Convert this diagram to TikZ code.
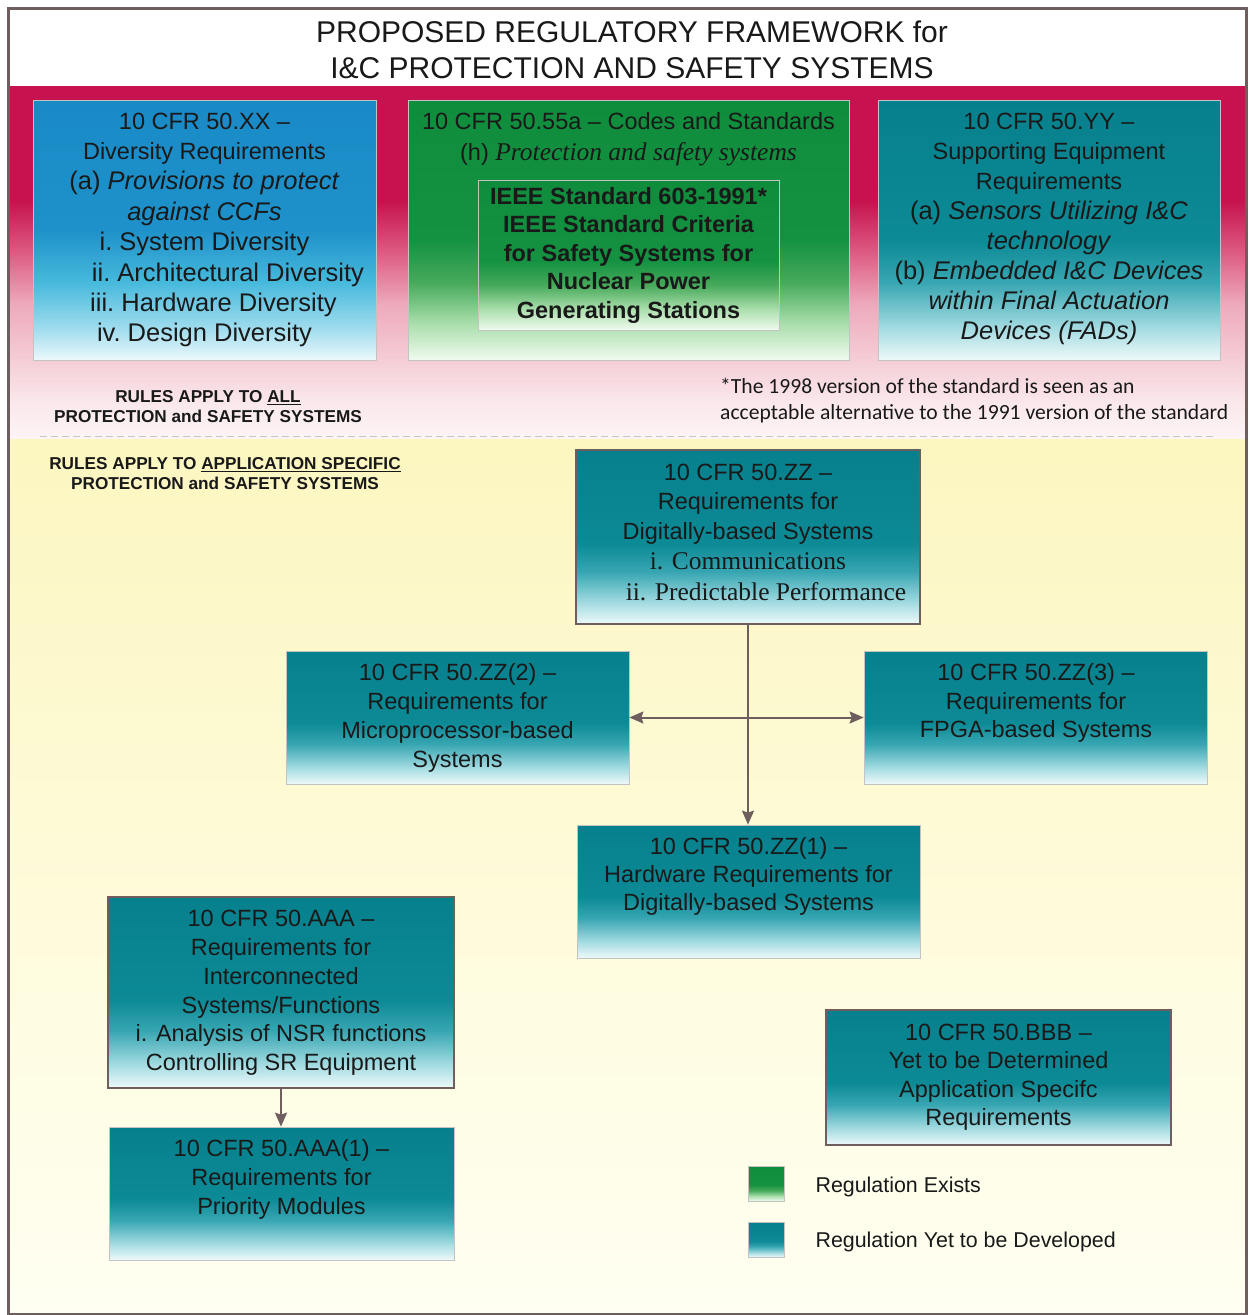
\documentclass[tikz,border=0pt]{standalone}
\usepackage{fontspec}
\setmainfont{Liberation Sans}
\newfontfamily\timesfont{Liberation Serif}
\newfontfamily\calibrifont{Carlito}
\usetikzlibrary{arrows.meta,positioning}
\definecolor{framec}{RGB}{110,94,94}
\definecolor{inkc}{RGB}{25,25,25}
\definecolor{edgec}{RGB}{195,195,195}
\definecolor{paley}{RGB}{252,246,192}
\definecolor{paleyb}{RGB}{255,255,242}
% teal: regulation yet to be developed
\definecolor{tl0}{RGB}{238,249,249}
\definecolor{tl1}{RGB}{165,220,226}
\definecolor{tl2}{RGB}{55,166,178}
\definecolor{tealc}{RGB}{12,138,150}
\definecolor{tealtop}{RGB}{6,128,140}
% blue
\definecolor{bl0}{RGB}{236,248,251}
\definecolor{bl1}{RGB}{160,220,238}
\definecolor{bl2}{RGB}{70,185,220}
\definecolor{bluec}{RGB}{30,145,202}
\definecolor{bluetop}{RGB}{25,138,198}
% green: regulation exists
\definecolor{gr0}{RGB}{240,250,238}
\definecolor{gr1}{RGB}{170,222,172}
\definecolor{gr2}{RGB}{70,170,90}
\definecolor{greenc}{RGB}{20,146,66}
\definecolor{greentop}{RGB}{15,140,60}
% crimson band
\definecolor{pk0}{RGB}{252,244,246}
\definecolor{pk1}{RGB}{250,232,236}
\definecolor{pk2}{RGB}{245,208,216}
\definecolor{pk3}{RGB}{238,170,188}
\definecolor{pk4}{RGB}{220,90,130}
\definecolor{crim}{RGB}{198,18,78}
\pgfdeclareverticalshading{tealfade}{100bp}{color(0bp)=(tl0); color(25bp)=(tl0); color(31bp)=(tl1); color(40bp)=(tl2); color(48bp)=(tealc); color(75bp)=(tealtop); color(100bp)=(tealtop)}
\pgfdeclareverticalshading{bluefade}{100bp}{color(0bp)=(bl0); color(25bp)=(bl0); color(31bp)=(bl1); color(40bp)=(bl2); color(50bp)=(bluec); color(75bp)=(bluetop); color(100bp)=(bluetop)}
\pgfdeclareverticalshading{greenfade}{100bp}{color(0bp)=(gr0); color(25bp)=(gr0); color(32bp)=(gr1); color(40bp)=(gr2); color(48bp)=(greenc); color(75bp)=(greentop); color(100bp)=(greentop)}
\pgfdeclareverticalshading{pinkfade}{100bp}{color(0bp)=(pk0); color(25bp)=(pk0); color(30bp)=(pk1); color(35.5bp)=(pk2); color(44bp)=(pk3); color(51.5bp)=(pk4); color(58.7bp)=(crim); color(100bp)=(crim)}
\newcommand\tms{\timesfont\fontsize{25.5}{31}\selectfont}
\newcommand\itemsz{\fontsize{25.5}{30.5}\selectfont}

\begin{document}
\begin{tikzpicture}[x=1pt,y=-1pt,
  regbox/.style={rectangle,inner sep=0pt,draw=edgec,line width=0.7pt,shade},
  devbox/.style={regbox,shading=tealfade},
  heavy/.style={draw=framec,line width=2.6pt},
  boxtext/.style={align=center,inner sep=0pt,text=inkc,font=\fontsize{23.5}{29.5}\selectfont},
  rules/.style={align=center,inner sep=0pt,text=inkc,font=\bfseries\fontsize{17.2}{20}\selectfont},
  legtext/.style={inner sep=0pt,text=inkc,font=\fontsize{21.4}{26}\selectfont},
  link/.style={draw=framec,line width=2pt},
  >={Stealth[length=14pt,width=12pt,inset=2pt]}]
\useasboundingbox (0,0) rectangle (1251,1315);
% backgrounds
\fill[top color=paley,bottom color=paleyb] (9,438) rectangle (1245,1313);
\shade[shading=pinkfade] (9,86) rectangle (1245,438);
\fill[white] (9,9) rectangle (1245,86);
\draw[gray!45,line width=0.8pt,dash pattern=on 7pt off 4pt] (40,436) -- (1215,436);
\draw[framec,line width=3pt] (8,8) rectangle (1246,1314);
\node[align=center,inner sep=0pt,text=inkc,font=\fontsize{30}{36}\selectfont] (title) at (632,50)
  {PROPOSED REGULATORY FRAMEWORK for\\I\&C PROTECTION AND SAFETY SYSTEMS};

% rules for all systems
\node[regbox,shading=bluefade,minimum width=343pt,minimum height=260pt] (xx) at (204.5,230) {};
\node[boxtext,font=\fontsize{23.5}{30.4}\selectfont] (xxtext) at (204.5,230) {10 CFR 50.XX \textendash\\Diversity Requirements\\{\itemsz(a) \textit{Provisions to protect}}\\{\itemsz\textit{against CCFs}}\\{\itemsz i.\ System Diversity}\\{\itemsz\hspace*{47pt}ii.\ Architectural Diversity}\\{\itemsz\hspace*{18pt}iii.\ Hardware Diversity}\\{\itemsz iv.\ Design Diversity}};
\node[regbox,shading=greenfade,minimum width=441pt,minimum height=260pt] (cs) at (628.5,230) {};
\node[boxtext,font=\fontsize{23.5}{31}\selectfont] (cstext) at (628.5,139) {10 CFR 50.55a \textendash{} Codes and Standards\\(h) {\tms\itshape Protection and safety systems}};
\node[regbox,shading=greenfade,minimum width=301pt,minimum height=150pt] (ieee) at (628.5,255) {};
\node[boxtext,font=\bfseries\fontsize{23.5}{28.5}\selectfont] (ieeetext) at (628.5,255) {IEEE Standard 603-1991*\\IEEE Standard Criteria\\for Safety Systems for\\Nuclear Power\\Generating Stations};
\node[regbox,shading=tealfade,minimum width=342pt,minimum height=260pt] (yy) at (1049,230) {};
\node[boxtext,font=\fontsize{23.5}{30}\selectfont] (yytext) at (1049,229) {10 CFR 50.YY \textendash\\Supporting Equipment\\Requirements\\{\itemsz(a) \textit{Sensors Utilizing I\&C}}\\{\itemsz\textit{technology}}\\{\itemsz(b) \textit{Embedded I\&C Devices}}\\{\itemsz\textit{within Final Actuation}}\\{\itemsz\textit{Devices (FADs)}}};
\node[rules] (allrules) at (208,407) {RULES APPLY TO \underline{ALL}\\PROTECTION and SAFETY SYSTEMS};
\node[anchor=west,align=left,inner sep=0pt,text=inkc,font=\calibrifont\fontsize{21.6}{26}\selectfont] (note) at (720,401) {*The 1998 version of the standard is seen as an\\acceptable alternative to the 1991 version of the standard};

% application specific rules
\node[rules] (specrules) at (225,474) {RULES APPLY TO \underline{APPLICATION SPECIFIC}\\PROTECTION and SAFETY SYSTEMS};
\node[devbox,heavy,minimum width=344pt,minimum height=174pt] (zz) at (748,537) {};
\node[boxtext] (zztext) at (748,532) {10 CFR 50.ZZ \textendash\\Requirements for\\Digitally-based Systems\\[1pt]{\tms i. Communications}\\[1pt]{\tms\hspace*{36pt}ii. Predictable Performance}};
\node[devbox,minimum width=343pt,minimum height=133pt] (zz2) at (457.5,717.5) {};
\node[boxtext,font=\fontsize{23.5}{29}\selectfont] (zz2text) at (457.5,718) {10 CFR 50.ZZ(2) \textendash\\Requirements for\\Microprocessor-based\\Systems};
\node[devbox,minimum width=343pt,minimum height=133pt] (zz3) at (1035.5,717.5) {};
\node[boxtext,font=\fontsize{23.5}{28.5}\selectfont] (zz3text) at (1036,703) {10 CFR 50.ZZ(3) \textendash\\Requirements for\\FPGA-based Systems};
\node[devbox,minimum width=343pt,minimum height=133pt] (zz1) at (748.5,891.5) {};
\node[boxtext,font=\fontsize{23.5}{28}\selectfont] (zz1text) at (748.5,876) {10 CFR 50.ZZ(1) \textendash\\Hardware Requirements for\\Digitally-based Systems};
\node[devbox,heavy,minimum width=346pt,minimum height=191pt] (aaa) at (281,992.5) {};
\node[boxtext,font=\fontsize{23.5}{28.8}\selectfont] (aaatext) at (281,993) {10 CFR 50.AAA \textendash\\Requirements for\\Interconnected\\Systems/Functions\\i. Analysis of NSR functions\\Controlling SR Equipment};
\node[devbox,minimum width=345pt,minimum height=133pt] (aaa1) at (281.5,1193.5) {};
\node[boxtext,font=\fontsize{23.5}{29}\selectfont] (aaa1text) at (281.5,1179) {10 CFR 50.AAA(1) \textendash\\Requirements for\\Priority Modules};
\node[devbox,heavy,minimum width=345pt,minimum height=135pt] (bbb) at (998.5,1077.5) {};
\node[boxtext,font=\fontsize{23.5}{28.5}\selectfont] (bbbtext) at (998.5,1077) {10 CFR 50.BBB \textendash\\Yet to be Determined\\Application Specifc\\Requirements};

% connectors
\draw[link,->] (zz.south) -- (zz.south |- zz1.north);
\draw[link,<->] (zz2.east) -- (zz3.west);
\draw[link,->] (aaa.south) -- (aaa.south |- aaa1.north);

% legend
\node[regbox,shading=greenfade,minimum width=36pt,minimum height=35pt] (legex) at (766,1183.5) {};
\node[legtext,right=31pt of legex,yshift=-3.5pt] (legextext) {Regulation Exists};
\node[devbox,minimum width=36pt,minimum height=35pt] (legdev) at (766,1239.5) {};
\node[legtext,right=31pt of legdev,yshift=-2.5pt] (legdevtext) {Regulation Yet to be Developed};
\end{tikzpicture}
\end{document}
